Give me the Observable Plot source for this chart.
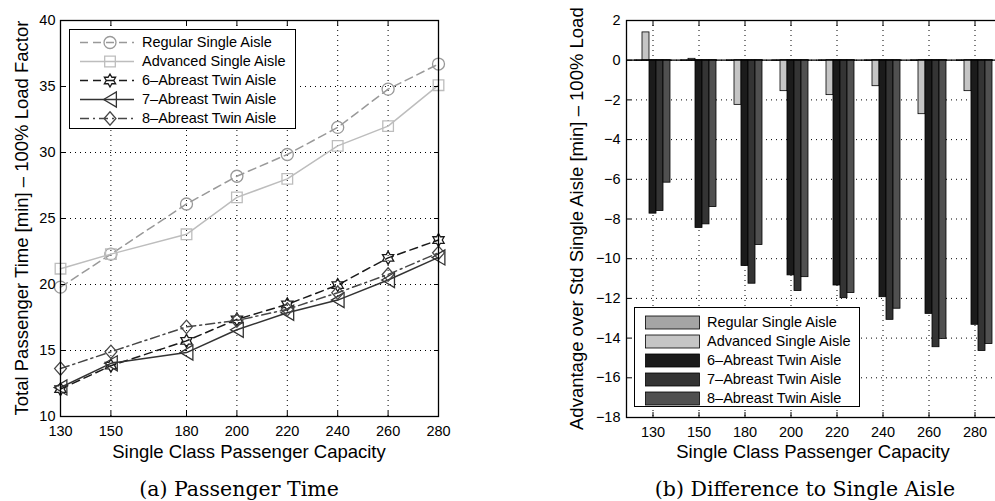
<!DOCTYPE html>
<html><head><meta charset="utf-8">
<script src="https://cdn.jsdelivr.net/npm/d3@7"></script>
<script src="https://cdn.jsdelivr.net/npm/@observablehq/plot@0.6"></script>
<style>
body{margin:0;background:#fff;}
#root{position:relative;width:995px;height:501px;overflow:hidden;font-family:"Liberation Sans",Arial,sans-serif;color:#000;}
.abs{position:absolute;white-space:nowrap;line-height:1;}
.title{font-size:18.5px;}
.caption{font-family:"DejaVu Serif",serif;font-size:20.5px;}
.legend{position:absolute;background:#fff;border:1.3px solid #000;box-sizing:border-box;font-size:14.5px;}
.legend .row{position:absolute;left:0;height:19px;line-height:19px;white-space:nowrap;}
.legend svg{position:absolute;left:0;top:0;overflow:visible;}
.legend span{position:absolute;left:72px;top:0;}
svg.plot{position:absolute;top:0;}
</style></head><body><div id="root"></div>
<script>
// ---------- data ----------
const capacities = [130, 150, 180, 200, 220, 240, 260, 280];
const seriesNames = ["Regular Single Aisle", "Advanced Single Aisle", "6–Abreast Twin Aisle", "7–Abreast Twin Aisle", "8–Abreast Twin Aisle"];

// (a) total passenger time [min]
const regularTime  = [19.8, 22.3, 26.1, 28.2, 29.85, 31.9, 34.8, 36.7];
const advancedTime = [21.2, 22.3, 23.8, 26.6, 28.0, 30.5, 32.0, 35.1];
const sixTime      = [12.07, 13.85, 15.73, 17.36, 18.5, 19.96, 22.02, 23.37];
const sevenTime    = [12.2, 14.03, 14.84, 16.57, 17.86, 18.82, 20.34, 22.05];
const eightTime    = [13.63, 14.9, 16.79, 17.27, 18.12, 19.38, 20.76, 22.4];
const timeTicks = [10, 15, 20, 25, 30, 35, 40];

// (b) difference to single aisle [min]
const regularDiff  = [0, 0, 0, 0, 0, 0, 0, 0];
const advancedDiff = [1.4, 0.07, -2.25, -1.56, -1.76, -1.31, -2.72, -1.56];
const sixDiff      = [-7.73, -8.45, -10.37, -10.84, -11.35, -11.94, -12.78, -13.33];
const sevenDiff    = [-7.6, -8.27, -11.26, -11.63, -11.99, -13.08, -14.46, -14.65];
const eightDiff    = [-6.17, -7.4, -9.31, -10.93, -11.73, -12.52, -14.04, -14.3];
const diffTicks = [-18, -16, -14, -12, -10, -8, -6, -4, -2, 0, 2];

// ---------- styles ----------
const lineColors = ["#999999", "#bdbdbd", "#1a1a1a", "#333333", "#474747"];
const lineDash = ["8,5", null, "8,5", null, "9,4,2,4"];
const barColors = ["#a5a5a5", "#c5c5c5", "#1b1b1b", "#343434", "#505050"];

function polySymbol(points) {
  return {draw(context, size) {
    const r = Math.sqrt(size / Math.PI);
    points.forEach(([x, y], i) => i ? context.lineTo(x * r, y * r) : context.moveTo(x * r, y * r));
    context.closePath();
  }};
}
const hexagram = polySymbol(d3.range(12).map(i => {
  const a = -Math.PI / 2 + i * Math.PI / 6, k = i % 2 ? 0.58 : 1;
  return [k * Math.cos(a), k * Math.sin(a)];
}));
const leftTriangle = polySymbol([[-0.85, 0], [0.85, -1], [0.85, 1]]);
const diamond = polySymbol([[0, -1], [0.88, 0], [0, 1], [-0.88, 0]]);
const symbols = [d3.symbolCircle, d3.symbolSquare, hexagram, leftTriangle, diamond];
const symbolR = [6, 6, 6.5, 7.5, 6.7];

const timeSeries = [regularTime, advancedTime, sixTime, sevenTime, eightTime];
const diffSeries = [regularDiff, advancedDiff, sixDiff, sevenDiff, eightDiff];

const fontFamily = "'Liberation Sans', Arial, sans-serif";
const dotted = {stroke: "#000", strokeOpacity: 1, strokeWidth: 1, strokeDasharray: "1,4"};
const root = document.getElementById("root");

// ---------- (a) line chart ----------
const lineMarks = [];
timeSeries.forEach((vals, s) => {
  const rows = capacities.map((c, i) => ({cap: c, time: vals[i]}));
  lineMarks.push(Plot.line(rows, {x: "cap", y: "time", stroke: lineColors[s], strokeWidth: 1.5, strokeDasharray: lineDash[s]}));
  lineMarks.push(Plot.dot(rows, {x: "cap", y: "time", symbol: symbols[s], r: symbolR[s], fill: "none", stroke: lineColors[s], strokeWidth: 1.3}));
});

const chartA = Plot.plot({
  width: 460, height: 440,
  marginLeft: 60, marginRight: 22, marginTop: 20, marginBottom: 24,
  style: {fontFamily, fontSize: "14.5px", background: "transparent", color: "#000", overflow: "visible"},
  x: {domain: [130, 280]},
  y: {domain: [10, 40]},
  marks: [
    Plot.gridX(capacities, dotted),
    Plot.gridY(timeTicks, dotted),
    ...lineMarks,
    Plot.axisX(capacities, {anchor: "bottom", tickSize: -5, tickPadding: 14, label: null}),
    Plot.axisX(capacities, {anchor: "top", tickSize: -5, tickFormat: () => "", label: null}),
    Plot.axisY(timeTicks, {anchor: "left", tickSize: -5, tickPadding: 10, label: null}),
    Plot.axisY(timeTicks, {anchor: "right", tickSize: -5, tickFormat: () => "", label: null}),
    Plot.frame({stroke: "#000", strokeWidth: 1.3})
  ]
});
chartA.classList.add("plot");
chartA.style.left = "0px";
root.appendChild(chartA);

// ---------- (b) bar chart: background (grid, axes, frame) ----------
const barGeom = {width: 440, height: 440, marginLeft: 66, marginRight: 0, marginTop: 20, marginBottom: 23};
const chartB0 = Plot.plot({
  ...barGeom,
  style: {fontFamily, fontSize: "14.5px", background: "transparent", color: "#000"},
  x: {type: "band", domain: capacities, paddingInner: 0.2, paddingOuter: 0.1},
  y: {domain: [-18, 2]},
  marks: [
    Plot.gridY(diffTicks, dotted),
    Plot.gridX(capacities, dotted),
    Plot.ruleY([0], {stroke: "#000", strokeWidth: 1.2}),
    Plot.axisX(capacities, {anchor: "bottom", tickSize: -5, tickPadding: 14, label: null}),
    Plot.axisX(capacities, {anchor: "top", tickSize: -5, tickFormat: () => "", label: null}),
    Plot.axisY(diffTicks, {anchor: "left", tickSize: -5, tickPadding: 11, label: null}),
    Plot.frame({stroke: "#000", strokeWidth: 1.3})
  ]
});
chartB0.classList.add("plot");
chartB0.style.left = "560px";
root.appendChild(chartB0);

// ---------- (b) bar chart: grouped bars (faceted by capacity) ----------
const barRows = [];
capacities.forEach((c, i) => diffSeries.forEach((vals, s) => barRows.push({cap: c, series: seriesNames[s], value: vals[i]})));
const chartB1 = Plot.plot({
  ...barGeom,
  style: {background: "transparent", overflow: "visible"},
  fx: {domain: capacities, paddingInner: 0.2, paddingOuter: 0.1, axis: null, label: null},
  x: {domain: seriesNames, padding: 0, axis: null},
  y: {domain: [-18, 2], axis: null},
  color: {domain: seriesNames, range: barColors},
  marks: [
    Plot.barY(barRows, {fx: "cap", x: "series", y1: 0, y2: "value", fill: "series", stroke: "#000", strokeWidth: 0.8}),
    Plot.ruleY([0], {stroke: "#000", strokeWidth: 1.2})
  ]
});
chartB1.classList.add("plot");
chartB1.style.left = "560px";
root.appendChild(chartB1);

// ---------- titles & captions ----------
function addText(cls, text, css) {
  const d = document.createElement("div");
  d.className = "abs " + cls;
  d.textContent = text;
  Object.assign(d.style, css);
  root.appendChild(d);
  return d;
}
addText("title", "Single Class Passenger Capacity", {left: "249px", top: "442.6px", transform: "translateX(-50%)"});
addText("title", "Single Class Passenger Capacity", {left: "813px", top: "442.6px", transform: "translateX(-50%)"});
addText("title", "Total Passenger Time [min] – 100% Load Factor", {left: "12.6px", top: "468px", width: "500px", textAlign: "center", transformOrigin: "0 0", transform: "rotate(-90deg)"});
addText("title", "Advantage over Std Single Aisle [min] – 100% Load", {left: "567.8px", top: "430px", transformOrigin: "0 0", transform: "rotate(-90deg)"});
addText("caption", "(a) Passenger Time", {left: "239px", top: "479.4px", transform: "translateX(-50%)"});
addText("caption", "(b) Difference to Single Aisle", {left: "805px", top: "479.4px", transform: "translateX(-50%)"});

// ---------- legends ----------
function symbolPath(sym, r) { const p = d3.path(); sym.draw(p, Math.PI * r * r); return p.toString(); }
function makeLegend(left, top, width, height, rowTop, drawSwatch) {
  const box = document.createElement("div");
  box.className = "legend";
  Object.assign(box.style, {left: left + "px", top: top + "px", width: width + "px", height: height + "px"});
  seriesNames.forEach((name, s) => {
    const row = document.createElement("div");
    row.className = "row";
    row.style.top = (rowTop + s * 19.1) + "px";
    row.style.width = "100%";
    const svg = d3.create("svg").attr("width", 70).attr("height", 19);
    drawSwatch(svg, s);
    row.appendChild(svg.node());
    const sp = document.createElement("span");
    sp.textContent = name;
    row.appendChild(sp);
    box.appendChild(row);
  });
  root.appendChild(box);
}
makeLegend(69, 29, 227, 100, 2.5, (svg, s) => {
  svg.append("line").attr("x1", 10).attr("x2", 64).attr("y1", 9.5).attr("y2", 9.5)
    .attr("stroke", lineColors[s]).attr("stroke-width", 1.5).attr("stroke-dasharray", lineDash[s]);
  svg.append("path").attr("d", symbolPath(symbols[s], symbolR[s])).attr("transform", "translate(40,9.5)")
    .attr("fill", "none").attr("stroke", lineColors[s]).attr("stroke-width", 1.3);
});
makeLegend(634, 307, 226, 100, 4.5, (svg, s) => {
  svg.append("rect").attr("x", 10.5).attr("y", 3).attr("width", 54).attr("height", 13)
    .attr("fill", barColors[s]).attr("stroke", "#000").attr("stroke-width", 0.8);
});
</script></body></html>
